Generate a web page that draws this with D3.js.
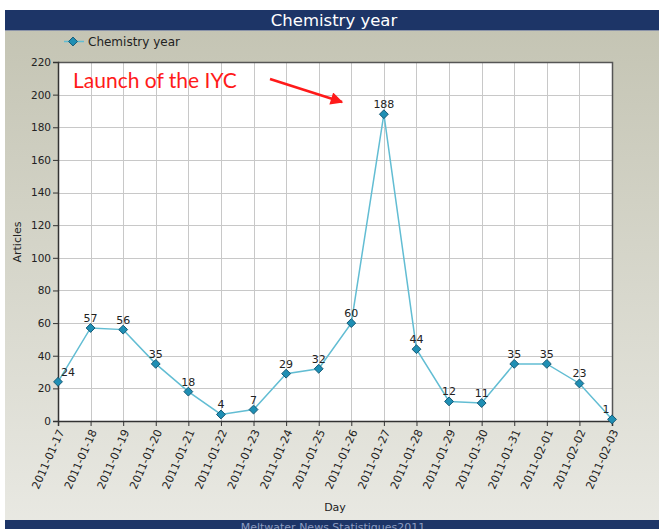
<!DOCTYPE html>
<html lang="en">
<head>
    <meta charset="UTF-8">
    <title>Chemistry year</title>
    <script src="https://d3js.org/d3.v7.min.js"></script>
    <style>
        html, body { margin: 0; padding: 0; background: #fff; }
        svg { display: block; font-family: "DejaVu Sans", Verdana, sans-serif; }
    </style>
</head>
<body>
    <svg width="659" height="529"></svg>
    <script>
        // data
        const days = ["2011-01-17", "2011-01-18", "2011-01-19", "2011-01-20", "2011-01-21",
            "2011-01-22", "2011-01-23", "2011-01-24", "2011-01-25", "2011-01-26",
            "2011-01-27", "2011-01-28", "2011-01-29", "2011-01-30", "2011-01-31",
            "2011-02-01", "2011-02-02", "2011-02-03"];
        const articles = [24, 57, 56, 35, 18, 4, 7, 29, 32, 60, 188, 44, 12, 11, 35, 35, 23, 1];
        const yTicks = [0, 20, 40, 60, 80, 100, 120, 140, 160, 180, 200, 220];

        const svg = d3.select("svg");
        const W = 659, H = 529;
        const plot = { left: 58, right: 612, top: 62, bottom: 421 };

        // panel background gradient
        const defs = svg.append("defs");
        const grad = defs.append("linearGradient")
            .attr("id", "bg").attr("x1", 0).attr("y1", 0).attr("x2", 0).attr("y2", 1);
        grad.append("stop").attr("offset", "0%").attr("stop-color", "#c3c3b2");
        grad.append("stop").attr("offset", "100%").attr("stop-color", "#e9e9e3");

        svg.append("rect").attr("x", 5).attr("y", 10).attr("width", W - 5).attr("height", H - 10)
            .attr("fill", "url(#bg)");

        // header band
        svg.append("rect").attr("x", 5).attr("y", 10).attr("width", W - 5).attr("height", 20)
            .attr("fill", "#1d3567");
        svg.append("line").attr("x1", 5).attr("x2", W).attr("y1", 30.5).attr("y2", 30.5)
            .attr("stroke", "#8a93a8");
        svg.append("text").attr("x", 334).attr("y", 26).attr("text-anchor", "middle")
            .attr("fill", "#fff").attr("font-size", 16.5)
            .text("Chemistry year");

        // footer band (text is cut by the bottom edge, as in the original)
        svg.append("rect").attr("x", 5).attr("y", 520).attr("width", W - 5).attr("height", 9)
            .attr("fill", "#1d3567");
        svg.append("text").attr("x", 333).attr("y", 531).attr("text-anchor", "middle")
            .attr("fill", "#8c9cc0").attr("font-size", 11)
            .text("Meltwater News Statistiques2011");

        // scales
        const x = d3.scalePoint().domain(days).range([plot.left, plot.right]);
        const y = d3.scaleLinear().domain([0, 220]).range([plot.bottom, plot.top]);

        svg.append("rect").attr("x", plot.left).attr("y", plot.top)
            .attr("width", plot.right - plot.left).attr("height", plot.bottom - plot.top)
            .attr("fill", "#fff");

        // grid
        const grid = svg.append("g").attr("stroke", "#c8c8c8").attr("stroke-width", 1);
        grid.selectAll(".gx").data(days).join("line")
            .attr("x1", d => Math.round(x(d)) + 0.5).attr("x2", d => Math.round(x(d)) + 0.5)
            .attr("y1", plot.top).attr("y2", plot.bottom);
        grid.selectAll(".gy").data(yTicks).join("line")
            .attr("x1", plot.left).attr("x2", plot.right)
            .attr("y1", d => Math.round(y(d)) + 0.5).attr("y2", d => Math.round(y(d)) + 0.5);

        // frame top/right
        svg.append("path")
            .attr("d", `M${plot.left},${plot.top + 0.5}H${plot.right + 0.5}V${plot.bottom}`)
            .attr("fill", "none").attr("stroke", "#555").attr("stroke-width", 1.5);

        // axes
        const yAxis = svg.append("g").attr("transform", `translate(${plot.left},0)`)
            .call(d3.axisLeft(y).tickValues(yTicks).tickSize(5).tickPadding(2));
        const xAxis = svg.append("g").attr("transform", `translate(0,${plot.bottom})`)
            .call(d3.axisBottom(x).tickSize(5).tickFormat(""));
        [yAxis, xAxis].forEach(a => {
            a.select(".domain").attr("stroke", "#333").attr("stroke-width", 1.5);
            a.selectAll(".tick line").attr("stroke", "#333");
        });
        yAxis.selectAll(".tick text").attr("font-size", 10.5).attr("fill", "#222")
            .attr("font-family", "DejaVu Sans");

        // rotated day labels
        svg.append("g").selectAll("text").data(days).join("text")
            .attr("transform", d => `translate(${x(d) + 3},${plot.bottom + 9}) rotate(-66)`)
            .attr("text-anchor", "end").attr("dy", "0.35em")
            .attr("font-size", 11).attr("fill", "#222")
            .text(d => d);

        // axis titles
        svg.append("text").attr("transform", "translate(21,242) rotate(-90)")
            .attr("text-anchor", "middle").attr("font-size", 11).attr("fill", "#222")
            .text("Articles");
        svg.append("text").attr("x", 335).attr("y", 511).attr("text-anchor", "middle")
            .attr("font-size", 11).attr("fill", "#222")
            .text("Day");

        // series line
        const line = d3.line().x((d, i) => x(days[i])).y(d => y(d));
        svg.append("path").datum(articles).attr("d", line)
            .attr("fill", "none").attr("stroke", "#62bdd3").attr("stroke-width", 1.5);

        const diamond = d3.symbol().type(d3.symbolDiamond2).size(50);
        svg.append("g").selectAll("path").data(articles).join("path")
            .attr("transform", (d, i) => `translate(${x(days[i])},${y(d)})`)
            .attr("d", diamond)
            .attr("fill", "#1f8fb4").attr("stroke", "#165a76").attr("stroke-width", 1);

        // point labels
        svg.append("g").selectAll("text").data(articles).join("text")
            .attr("x", (d, i) => x(days[i]) + (i === 0 ? 10 : i === articles.length - 1 ? -6 : 0))
            .attr("y", d => y(d) - 6)
            .attr("text-anchor", "middle").attr("font-size", 11).attr("fill", "#222")
            .text(d => d);

        // legend
        svg.append("line").attr("x1", 64).attr("x2", 84).attr("y1", 41.5).attr("y2", 41.5)
            .attr("stroke", "#62bdd3").attr("stroke-width", 1.5);
        svg.append("path").attr("transform", "translate(73,41.5)").attr("d", diamond)
            .attr("fill", "#1f8fb4").attr("stroke", "#165a76");
        svg.append("text").attr("x", 88).attr("y", 45.5).attr("font-size", 12).attr("fill", "#222")
            .text("Chemistry year");

        // annotation
        svg.append("text").attr("x", 73).attr("y", 88)
            .attr("font-family", "Lato, 'Open Sans', sans-serif").attr("font-size", 21)
            .attr("fill", "#ff1a1a").text("Launch of the IYC");
        defs.append("marker").attr("id", "ah").attr("viewBox", "0 0 10 10")
            .attr("refX", 9).attr("refY", 5).attr("markerWidth", 6).attr("markerHeight", 5)
            .attr("markerUnits", "strokeWidth").attr("orient", "auto")
            .append("path").attr("d", "M0,0L10,5L0,10Z").attr("fill", "#ff1a1a");
        svg.append("line").attr("x1", 270).attr("y1", 79).attr("x2", 342).attr("y2", 102)
            .attr("stroke", "#ff1a1a").attr("stroke-width", 2.5).attr("marker-end", "url(#ah)");
    </script>
</body>
</html>
